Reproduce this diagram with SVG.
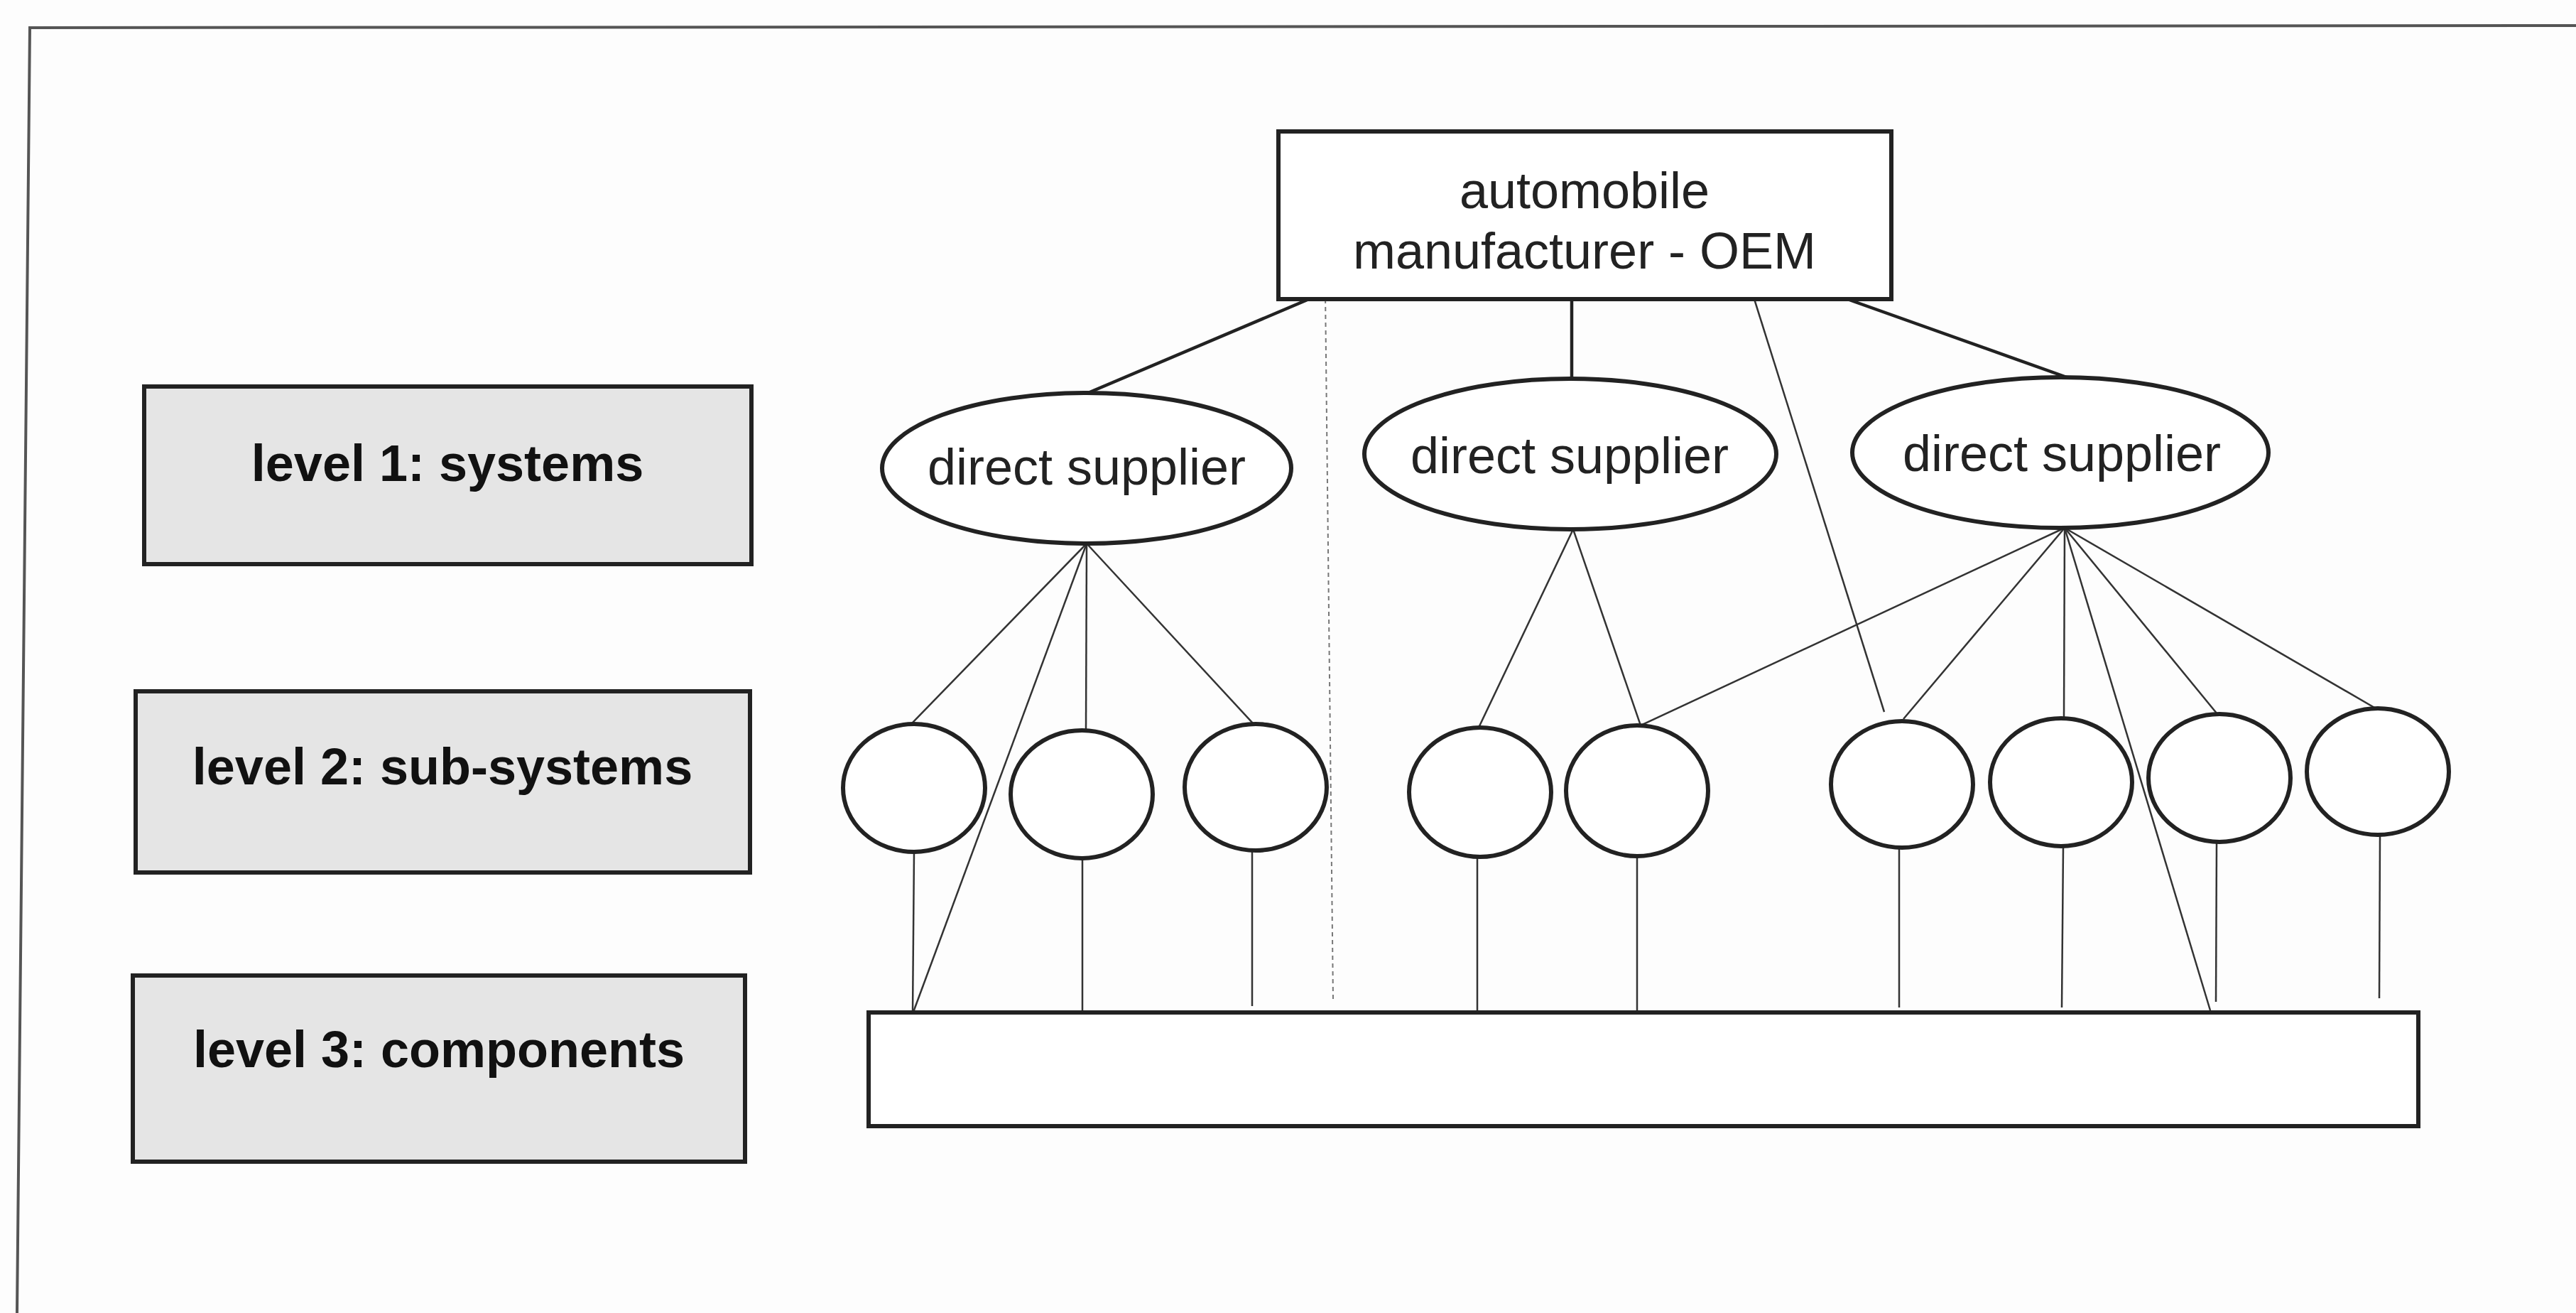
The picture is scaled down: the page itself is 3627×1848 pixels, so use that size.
<svg xmlns="http://www.w3.org/2000/svg" width="3627" height="1848" viewBox="0 0 3627 1848">
  <style>
    .frame { fill: none; stroke: #555; stroke-width: 4; }
    .level rect { fill: #e5e5e5; stroke: #222; stroke-width: 6; }
    .level text { font-family: "Liberation Sans", Arial, sans-serif; font-weight: bold; font-size: 72px; fill: #111; text-anchor: middle; }
    .box { fill: #fff; stroke: #222; stroke-width: 6; }
    .node ellipse { fill: #fff; stroke: #222; stroke-width: 6; }
    .label { font-family: "Liberation Sans", Arial, sans-serif; font-size: 72px; fill: #222; text-anchor: middle; }
    .heavy { stroke: #222; stroke-width: 4.5; fill: none; }
    .thin { stroke: #333; stroke-width: 2.5; fill: none; }
    .divider { stroke: #777; stroke-width: 2; stroke-dasharray: 6 5; fill: none; }
  </style>

  <rect x="0" y="0" width="3627" height="1848" fill="#fdfdfd"/>

  <!-- outer frame (only top and left edges fall inside the page) -->
  <path class="frame" d="M 24 1848 L 42 39 L 3627 36"/>

  <!-- level legend boxes -->
  <g id="level1" class="level">
    <rect x="203" y="544" width="855" height="250"/>
    <text x="630" y="677">level 1: systems</text>
  </g>
  <g id="level2" class="level">
    <rect x="191" y="973" width="865" height="255"/>
    <text x="623" y="1104">level 2: sub-systems</text>
  </g>
  <g id="level3" class="level">
    <rect x="187" y="1373" width="862" height="262"/>
    <text x="618" y="1502">level 3: components</text>
  </g>

  <!-- connectors -->
  <g id="connectors">
    <!-- OEM to direct suppliers -->
    <line class="heavy" x1="1843" y1="421" x2="1532" y2="553"/>
    <line class="heavy" x1="2213" y1="421" x2="2213" y2="534"/>
    <line class="heavy" x1="2601" y1="421" x2="2910" y2="531"/>
    <line class="thin" x1="2470" y1="421" x2="2653" y2="1002"/>

    <!-- supplier 1 -->
    <line class="thin" x1="1530" y1="765" x2="1283" y2="1019"/>
    <line class="thin" x1="1530" y1="765" x2="1285" y2="1427"/>
    <line class="thin" x1="1530" y1="765" x2="1529" y2="1028"/>
    <line class="thin" x1="1530" y1="765" x2="1765" y2="1019"/>

    <!-- supplier 2 -->
    <line class="thin" x1="2215" y1="745" x2="2082" y2="1024"/>
    <line class="thin" x1="2215" y1="745" x2="2310" y2="1021"/>

    <!-- supplier 3 -->
    <line class="thin" x1="2907" y1="743" x2="2310" y2="1021"/>
    <line class="thin" x1="2907" y1="743" x2="2680" y2="1012"/>
    <line class="thin" x1="2907" y1="743" x2="2906" y2="1012"/>
    <line class="thin" x1="2907" y1="743" x2="3112" y2="1422"/>
    <line class="thin" x1="2907" y1="743" x2="3122" y2="1005"/>
    <line class="thin" x1="2907" y1="743" x2="3345" y2="997"/>

    <!-- sub-systems to components -->
    <line class="thin" x1="1287" y1="1199" x2="1285" y2="1427"/>
    <line class="thin" x1="1524" y1="1208" x2="1524" y2="1427"/>
    <line class="thin" x1="1763" y1="1197" x2="1763" y2="1416"/>
    <line class="thin" x1="2080" y1="1207" x2="2080" y2="1427"/>
    <line class="thin" x1="2305" y1="1205" x2="2305" y2="1427"/>
    <line class="thin" x1="2674" y1="1193" x2="2674" y2="1418"/>
    <line class="thin" x1="2905" y1="1191" x2="2903" y2="1418"/>
    <line class="thin" x1="3121" y1="1186" x2="3120" y2="1410"/>
    <line class="thin" x1="3351" y1="1176" x2="3350" y2="1405"/>

    <!-- dashed separator -->
    <line class="divider" x1="1866" y1="410" x2="1877" y2="1407"/>
  </g>

  <!-- OEM -->
  <g id="oem">
    <rect class="box" x="1800" y="185" width="863" height="236"/>
    <text class="label" x="2231" y="293">automobile</text>
    <text class="label" x="2231" y="378">manufacturer - OEM</text>
  </g>

  <!-- direct suppliers -->
  <g id="supplier1" class="node">
    <ellipse cx="1530" cy="659" rx="288" ry="106"/>
    <text class="label" x="1530" y="682">direct supplier</text>
  </g>
  <g id="supplier2" class="node">
    <ellipse cx="2211" cy="639" rx="290" ry="106"/>
    <text class="label" x="2210" y="666">direct supplier</text>
  </g>
  <g id="supplier3" class="node">
    <ellipse cx="2901" cy="637" rx="293" ry="106"/>
    <text class="label" x="2903" y="663">direct supplier</text>
  </g>

  <!-- sub-systems -->
  <g id="sub1" class="node"><ellipse cx="1287" cy="1109" rx="100" ry="90"/></g>
  <g id="sub2" class="node"><ellipse cx="1523" cy="1118" rx="100" ry="90"/></g>
  <g id="sub3" class="node"><ellipse cx="1768" cy="1108" rx="100" ry="89"/></g>
  <g id="sub4" class="node"><ellipse cx="2084" cy="1115" rx="100" ry="91"/></g>
  <g id="sub5" class="node"><ellipse cx="2305" cy="1113" rx="100" ry="92"/></g>
  <g id="sub6" class="node"><ellipse cx="2678" cy="1104" rx="100" ry="89"/></g>
  <g id="sub7" class="node"><ellipse cx="2902" cy="1101" rx="100" ry="90"/></g>
  <g id="sub8" class="node"><ellipse cx="3125" cy="1095" rx="100" ry="90"/></g>
  <g id="sub9" class="node"><ellipse cx="3348" cy="1086" rx="100" ry="89"/></g>

  <!-- components -->
  <g id="components">
    <rect class="box" x="1223" y="1425" width="2182" height="160"/>
  </g>
</svg>
